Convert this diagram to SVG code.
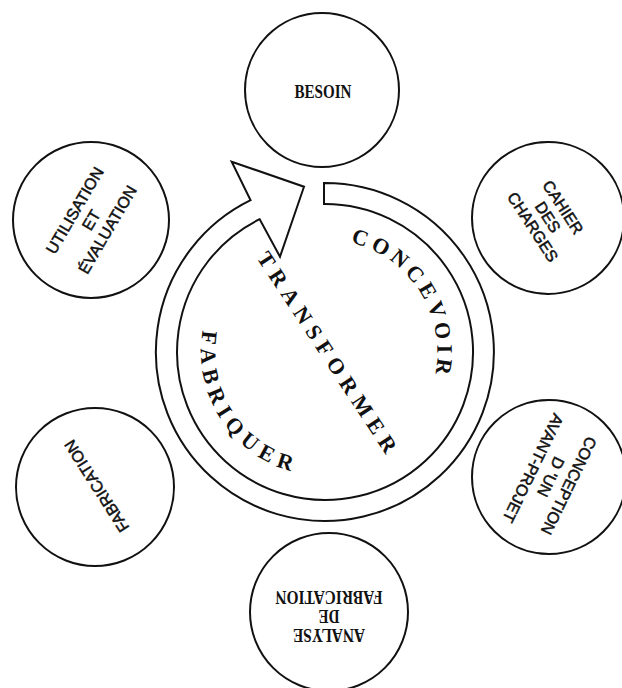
<svg xmlns="http://www.w3.org/2000/svg" width="622" height="688" viewBox="0 0 622 688">
<style>
.node{fill:none;stroke:#111;stroke-width:2}
.ring{fill:#fff;stroke:#111;stroke-width:2;stroke-linejoin:miter}
.sans{font-family:"Liberation Sans",Arial,sans-serif;font-size:16px;fill:#111;stroke:#111;stroke-width:0.5;text-anchor:middle}
.serif{font-family:"Liberation Serif","Times New Roman",serif;font-size:19px;font-weight:bold;fill:#111;text-anchor:middle}
.big{font-family:"Liberation Serif","Times New Roman",serif;font-size:22px;font-weight:bold;fill:#111}
</style>
<defs>
<path id="arcC" d="M268.65,254.4 A112.7,112.7 0 0 1 381.35,449.6"/>
<path id="arcF" d="M263,244.61 A124,124 0 0 0 387,459.39"/>
</defs>
<rect width="622" height="688" fill="#fff"/>
<g id="connectors">
<path class="ring" d="M324,183 A169,169 0 1 1 250.6,200.2 L231.7,161.7 L304,186.7 L280,256.7 L259.7,219.2 A148,148 0 1 0 324,204 Z"/>
</g>
<g id="ring-labels">
<text class="big" letter-spacing="4.47"><textPath href="#arcC" startOffset="84.5">CONCEVOIR</textPath></text>
<text class="big" letter-spacing="6.4"><textPath href="#arcF" startOffset="108">FABRIQUER</textPath></text>
<g transform="translate(327,352) rotate(56.7)"><text class="big" x="-117.6" y="7.3" letter-spacing="6.33">TRANSFORMER</text></g>
</g>
<g id="besoin">
<circle class="node" cx="322" cy="90" r="77"/>
<text class="serif" x="323" y="98" textLength="57" lengthAdjust="spacingAndGlyphs">BESOIN</text>
</g>
<g id="cahier">
<circle class="node" cx="548" cy="218" r="76"/>
<g transform="translate(548,217) rotate(57)">
<text class="sans" x="0" y="-12.3">CAHIER</text>
<text class="sans" x="0" y="5.7">DES</text>
<text class="sans" x="0" y="23.7">CHARGES</text>
</g>
</g>
<g id="conception">
<circle class="node" cx="549" cy="477" r="77"/>
<g transform="translate(551,477) rotate(116)">
<text class="sans" x="0" y="-14.3">CONCEPTION</text>
<text class="sans" x="0" y="5.7">D 'UN</text>
<text class="sans" x="0" y="25.7">AVANT-PROJET</text>
</g>
</g>
<g id="analyse">
<circle class="node" cx="329" cy="612" r="79"/>
<g transform="translate(329,616) rotate(180)">
<text class="serif" x="0" y="-13" textLength="72" lengthAdjust="spacingAndGlyphs">ANALYSE</text>
<text class="serif" x="0" y="6" textLength="21" lengthAdjust="spacingAndGlyphs">DE</text>
<text class="serif" x="0" y="25" textLength="107" lengthAdjust="spacingAndGlyphs">FABRICATION</text>
</g>
</g>
<g id="fabrication">
<circle class="node" cx="95" cy="487" r="79"/>
<g transform="translate(96.5,486) rotate(-122.5)">
<text class="sans" x="0" y="5.7">FABRICATION</text>
</g>
</g>
<g id="utilisation">
<circle class="node" cx="91" cy="220" r="78"/>
<g transform="translate(91,220) rotate(-59.5)">
<text class="sans" x="0" y="-13.3">UTILISATION</text>
<text class="sans" x="0" y="5.7">ET</text>
<text class="sans" x="0" y="24.7">ÉVALUATION</text>
</g>
</g>
</svg>
